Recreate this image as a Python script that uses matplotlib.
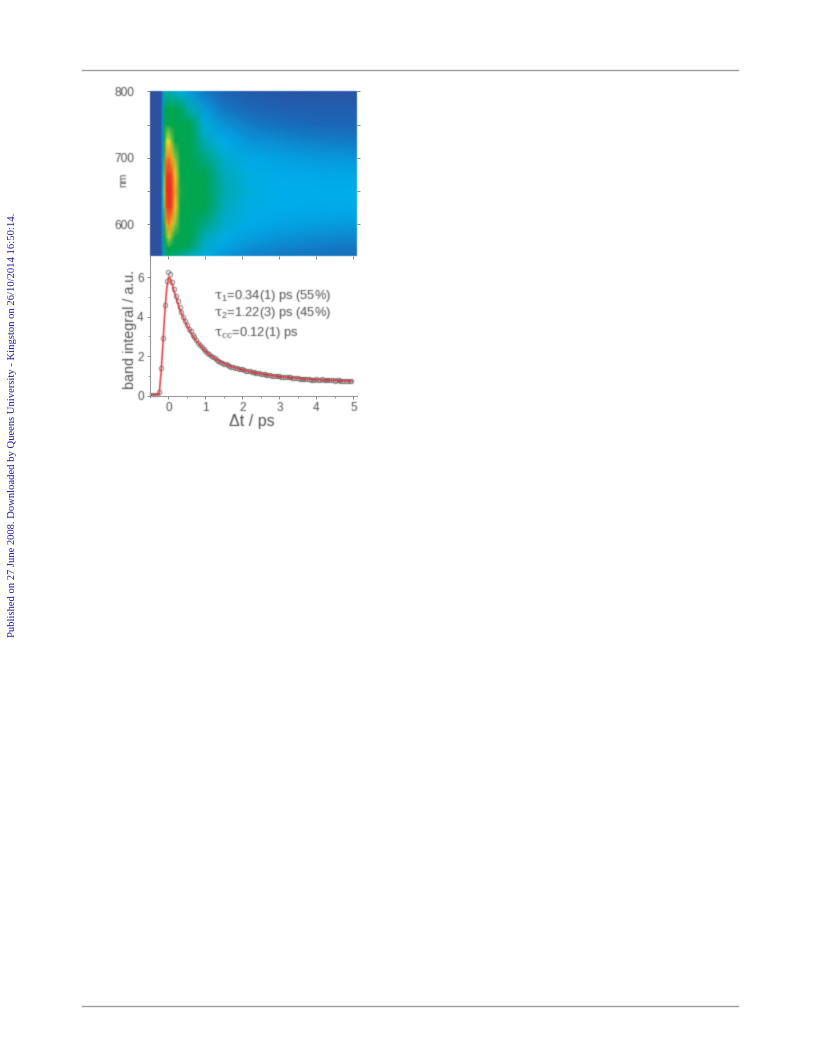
import numpy as np
import matplotlib
matplotlib.use('Agg')
import matplotlib.pyplot as plt
from matplotlib.colors import LinearSegmentedColormap

W, H = 816, 1061
map_t = [-0.48, -0.19, -0.14, -0.09, -0.04, 0.03, 0.1, 0.2, 0.35, 0.6, 1.0, 1.5, 2.2, 3.0, 4.0, 5.1]
map_nm = [550, 565, 580, 600, 625, 650, 675, 700, 725, 750, 775, 800]
map_z = [
 [0, 0, .14, .30, .36, .38, .37, .35, .33, .28, .24, .19, .15, .13, .12, .11],
 [0, 0, .17, .38, .45, .47, .46, .45, .42, .38, .28, .22, .18, .16, .14, .13],
 [0, 0, .18, .46, .60, .68, .62, .54, .47, .42, .31, .25, .21, .19, .17, .16],
 [0, 0, .20, .56, .80, .85, .78, .64, .51, .46, .36, .28, .235, .22, .21, .20],
 [0, 0, .21, .64, .94, .98, .96, .76, .55, .48, .41, .31, .25, .24, .235, .235],
 [0, 0, .22, .68, .98, 1.0, .98, .80, .57, .49, .43, .33, .26, .24, .24, .24],
 [0, 0, .21, .64, .95, .98, .95, .76, .55, .48, .41, .31, .25, .235, .23, .225],
 [0, 0, .20, .58, .84, .88, .80, .64, .51, .45, .36, .28, .23, .215, .20, .19],
 [0, 0, .19, .50, .68, .72, .64, .54, .47, .42, .31, .24, .19, .17, .15, .135],
 [0, 0, .18, .44, .54, .54, .50, .47, .44, .40, .26, .19, .14, .115, .10, .09],
 [0, 0, .17, .38, .44, .44, .42, .41, .38, .31, .20, .13, .09, .07, .06, .055],
 [0, 0, .15, .28, .31, .31, .30, .28, .25, .20, .13, .08, .05, .03, .02, .02],
]
cmap_levels = [0, .1, .24, .33, .40, .56, .64, .72, .85, 1]
cmap_colors = ['#2d50a0', '#1a69b9', '#00aeeb', '#00aaaa', '#00a650', '#00a650', '#8cc63f', '#faeb28', '#f5821e', '#eb2823']

fit_t = [-0.48, -0.4, -0.3, -0.25, -0.2, -0.15, -0.1, -0.05, 0, 0.05, 0.1, 0.15, 0.2, 0.25, 0.3, 0.4, 0.5, 0.6, 0.7, 0.8, 0.9, 1.0,
         1.1, 1.2, 1.3, 1.4, 1.5, 1.6, 1.7, 1.8, 1.9, 2.0, 2.2, 2.4, 2.6, 2.8, 3.0, 3.2, 3.4, 3.6, 3.8, 4.0, 4.2, 4.4, 4.6, 4.8, 4.95]
fit_y = [0.02, 0.03, 0.04, 0.1, 1.2, 2.6, 4.2, 5.4, 6.0, 5.95, 5.65, 5.3, 5.0, 4.7, 4.4, 3.95, 3.55, 3.2, 2.9, 2.67, 2.45, 2.25,
         2.08, 1.95, 1.82, 1.72, 1.62, 1.54, 1.47, 1.41, 1.36, 1.3, 1.21, 1.13, 1.07, 1.01, .96, .92, .89, .86, .83, .81, .79, .77, .76, .75, .74]
obs_t = [-0.48, -0.42, -0.36, -0.3, -0.25, -0.2, -0.15, -0.1, -0.05, 0, 0.05, 0.1, 0.15, 0.2, 0.25, 0.3, 0.35, 0.4, 0.45, 0.5, 0.55, 0.6, 0.65, 0.7, 0.75, 0.8, 0.85, 0.9, 0.95, 1.0,
         1.05, 1.1, 1.15, 1.2, 1.25, 1.3, 1.35, 1.4, 1.45, 1.5, 1.55, 1.6, 1.65, 1.7, 1.75, 1.8, 1.85, 1.9, 1.95, 2.0, 2.05, 2.1, 2.15, 2.2, 2.25, 2.3, 2.35, 2.4, 2.45, 2.5,
         2.55, 2.6, 2.65, 2.7, 2.75, 2.8, 2.85, 2.9, 2.95, 3.0, 3.05, 3.1, 3.15, 3.2, 3.25, 3.3, 3.35, 3.4, 3.45, 3.5, 3.55, 3.6, 3.65, 3.7, 3.75, 3.8, 3.85, 3.9, 3.95, 4.0,
         4.05, 4.1, 4.15, 4.2, 4.25, 4.3, 4.35, 4.4, 4.45, 4.5, 4.55, 4.6, 4.65, 4.7, 4.75, 4.8, 4.85, 4.9, 4.95]
obs_y = [0.03, 0.04, 0.03, 0.05, 0.2, 1.4, 2.9, 4.6, 5.8, 6.25, 6.15, 5.75, 5.4, 5.05, 4.8, 4.5, 4.25, 4.0, 3.8, 3.6, 3.4, 3.25, 3.07, 2.95, 2.8, 2.68, 2.58, 2.47, 2.36, 2.26,
         2.18, 2.1, 2.02, 1.95, 1.89, 1.82, 1.77, 1.72, 1.67, 1.62, 1.58, 1.55, 1.5, 1.47, 1.45, 1.42, 1.38, 1.36, 1.33, 1.32, 1.28, 1.26, 1.24, 1.22, 1.19, 1.17, 1.15, 1.13, 1.12, 1.1,
         1.09, 1.08, 1.05, 1.04, 1.03, 1.01, 1.0, 0.99, 0.98, 0.97, 0.95, 0.94, 0.94, 0.93, 0.92, 0.92, 0.9, 0.88, 0.89, 0.88, 0.86, 0.85, 0.86, 0.85, 0.83, 0.82, 0.8, 0.79, 0.8, 0.83,
         0.81, 0.8, 0.82, 0.81, 0.78, 0.77, 0.79, 0.79, 0.77, 0.76, 0.77, 0.78, 0.75, 0.74, 0.74, 0.75, 0.73, 0.73, 0.76]

x_ticks = [0, 1, 2, 3, 4, 5]
nm_ticks = [600, 700, 800]
y_ticks = [0, 2, 4, 6]
fit_notes = [r'$\tau_1$=0.34(1) ps (55%)', r'$\tau_2$=1.22(3) ps (45%)', r'$\tau_{cc}$=0.12(1) ps']
side_note = 'Published on 27 June 2008. Downloaded by Queens University - Kingston on 26/10/2014 16:50:14.'

plt.rcParams['font.family'] = ['Liberation Sans', 'DejaVu Sans']
plt.rcParams['mathtext.fontset'] = 'custom'
plt.rcParams['mathtext.rm'] = 'Liberation Sans'
plt.rcParams['mathtext.it'] = 'DejaVu Serif'
GREY = '#4e4e4e'


def soften(img, dpi):
    pad = 3
    img = np.pad(img, ((pad, pad), (pad, pad), (0, 0)))
    kernel = np.array([.18, .64, .18])
    a = img[..., 3]
    premult = img[..., :3] * a[..., None]
    stack = np.dstack([premult, a])
    for axis in (0, 1):
        stack = (kernel[0] * np.roll(stack, 1, axis) + kernel[1] * stack + kernel[2] * np.roll(stack, -1, axis))
    alpha = stack[..., 3]
    rgb = stack[..., :3] / np.maximum(alpha[..., None], 1e-4)
    return np.dstack([np.clip(rgb, 0, 1), alpha]), -pad, -pad


fig = plt.figure(figsize=(W/100, H/100), dpi=100, facecolor='white')
def box(x0, y0, x1, y1):
    return [x0/W, 1-y1/H, (x1-x0)/W, (y1-y0)/H]

for y in (70, 1005.5):
    fig.add_artist(plt.Line2D([82/W, 738/W], [1-y/H, 1-y/H], color='#a0a0a0', lw=1))
fig.text(13/W, 1-637/H, side_note, rotation=90, ha='center', va='bottom', color='#1a1aa8',
         family='Liberation Serif', fontsize=7.65)

cmap = LinearSegmentedColormap.from_list('band', list(zip(cmap_levels, cmap_colors)), N=512)

ax = fig.add_axes(box(150, 91.5, 357, 256))
mesh = ax.pcolormesh(map_t, map_nm, np.array(map_z), cmap=cmap, vmin=0, vmax=1, shading='gouraud')
mesh.set_agg_filter(soften)
ax.set_xlim(-0.48, 5.1)
ax.set_ylim(552, 800)
ax.set_yticks(nm_ticks)
ax.set_yticks([600, 650, 700, 750, 800], minor=True)
ax.set_xticks(x_ticks)
ax.tick_params(axis='x', which='major', length=2, width=.6, color='#777777', labelbottom=False)
ax.tick_params(axis='y', which='both', direction='out', length=2, width=.6, color='#777777', right=True,
               labelsize=8.6, labelcolor=GREY, pad=9)
for s in ax.spines.values():
    s.set_visible(False)
for t in ax.get_yticklabels():
    t.set_agg_filter(soften)
nm_label = fig.text(123/W, 1-180/H, 'nm', fontsize=7.5, color=GREY, rotation=90, ha='center', va='center')
nm_label.set_agg_filter(soften)

bx = fig.add_axes(box(150, 256, 357, 395.5))
bx.patch.set_alpha(0)
circles, = bx.plot(obs_t, obs_y, 'o', ms=3.1, mfc='none', mec='#6a6a6a', mew=.6)
circles.set_agg_filter(soften)
line, = bx.plot(fit_t, fit_y, '-', color='#e62e34', lw=1.1)
line.set_agg_filter(soften)
bx.set_xlim(-0.48, 5.1)
bx.set_ylim(0, 7.08)
bx.set_xticks(x_ticks)
bx.set_xticks(np.arange(-0.5, 5.01, 0.5), minor=True)
bx.set_yticks(y_ticks)
bx.set_yticks([1, 3, 5], minor=True)
bx.tick_params(axis='both', which='major', length=2.5, width=.6, color='#777777', labelsize=8.5, labelcolor=GREY, pad=2)
bx.tick_params(axis='both', which='minor', length=1.3, width=.5, color='#777777')
for s in ('top', 'right'):
    bx.spines[s].set_visible(False)
for s in ('left', 'bottom'):
    bx.spines[s].set_color('#9a9a9a')
    bx.spines[s].set_linewidth(.8)
bx.set_xlabel('\u0394t / ps', fontsize=11.5, color=GREY, labelpad=0, x=0.49)
bx.set_ylabel('band integral / a.u.', fontsize=10.3, color=GREY, labelpad=0, y=0.475)
bx.yaxis.label.set_agg_filter(soften)
bx.xaxis.label.set_agg_filter(soften)
for t in bx.get_xticklabels() + bx.get_yticklabels():
    t.set_agg_filter(soften)
for s, yy in zip(fit_notes, (296, 313, 333)):
    note = fig.text(214/W, 1-yy/H, s, fontsize=9.3, color=GREY, va='center', ha='left')
    note.set_agg_filter(soften)

fig.savefig('out.png', dpi=100)
